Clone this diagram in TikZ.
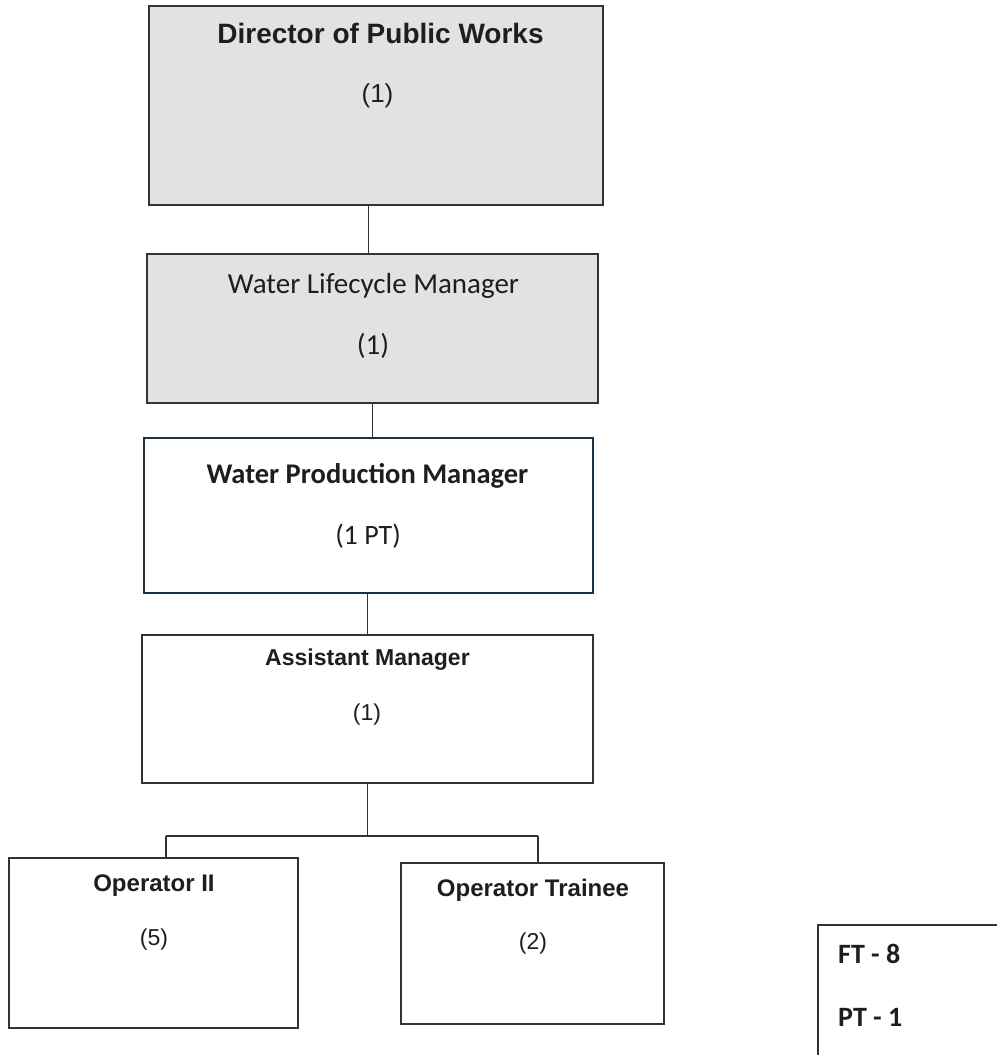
\documentclass[tikz,border=0pt]{standalone}
\usepackage{fontspec}
\setmainfont{Liberation Sans}
\newfontfamily\calib{Carlito}
\definecolor{boxgray}{RGB}{226,226,226}
\definecolor{wpmblue}{RGB}{28,48,72}
\definecolor{ink}{RGB}{30,30,30}
\begin{document}
\begin{tikzpicture}[x=1pt,y=-1pt,
  box/.style={draw=black!80,line width=1.3pt,rectangle,inner sep=0pt},
  graybox/.style={box,fill=boxgray},
  wpmbox/.style={draw=wpmblue,line width=2pt,rectangle,inner sep=0pt,fill=white},
  txt/.style={anchor=base,inner sep=0pt,text=ink},
  conn/.style={draw=black!80,line width=1.2pt}]
\useasboundingbox (0,0) rectangle (997,1055);
% boxes
\node[graybox,minimum width=454pt,minimum height=199pt] (dir) at (376,105.5) {};
\node[graybox,minimum width=451pt,minimum height=149pt] (life) at (372.5,328.5) {};
\node[wpmbox,minimum width=449pt,minimum height=155pt] (wpm) at (368.5,515.5) {};
\node[box,minimum width=451pt,minimum height=148pt] (am) at (367.5,709) {};
\node[box,minimum width=289pt,minimum height=170pt] (op2) at (153.5,943) {};
\node[box,minimum width=263pt,minimum height=161pt] (opt) at (532.5,943.5) {};
% texts
\node[txt,font=\bfseries\fontsize{28}{30}\selectfont] (dirT) at (380.5,43) {Director of Public Works};
\node[txt,font=\fontsize{26}{28}\selectfont] (dirN) at (377.5,102.5) {(1)};
\node[txt,font=\calib\fontsize{29}{31}\selectfont] (lifeT) at (373.5,293) {Water Lifecycle Manager};
\node[txt,font=\calib\fontsize{29}{31}\selectfont] (lifeN) at (373,354) {(1)};
\node[txt,font=\calib\bfseries\fontsize{28.5}{30}\selectfont] (wpmT) at (367.5,483) {Water Production Manager};
\node[txt,font=\calib\fontsize{28}{30}\selectfont] (wpmN) at (368,544) {(1 PT)};
\node[txt,font=\bfseries\fontsize{23}{25}\selectfont] (amT) at (367.5,665.5) {Assistant Manager};
\node[txt,font=\fontsize{23}{25}\selectfont] (amN) at (367,720) {(1)};
\node[txt,font=\bfseries\fontsize{24}{26}\selectfont] (op2T) at (154,891.5) {Operator II};
\node[txt,font=\fontsize{23}{25}\selectfont] (op2N) at (154,945) {(5)};
\node[txt,font=\bfseries\fontsize{24}{26}\selectfont] (optT) at (533,896) {Operator Trainee};
\node[txt,font=\fontsize{23}{25}\selectfont] (optN) at (533,949) {(2)};
% legend
\coordinate (ftR) at (997,925);
\coordinate (ftC) at (818,925);
\coordinate (ftB) at (818,1055);
\draw[conn,line width=1.4pt] (ftR) -- (ftC) -- (ftB);
\node[txt,anchor=base west,font=\calib\bfseries\fontsize{28}{30}\selectfont] (ft) at (838,963) {FT - 8};
\node[txt,anchor=base west,font=\calib\bfseries\fontsize{28}{30}\selectfont] (pt) at (838,1026) {PT - 1};
% connectors
\draw[conn] (dir.south -| wpm.north) -- (life.north -| wpm.north);
\draw[conn] (life.south) -- (life.south |- wpm.north);
\draw[conn] (wpm.south -| am.north) -- (am.north);
\coordinate (bus) at (367.5,836);
\coordinate (bl) at (166,836);
\coordinate (br) at (538,836);
\draw[conn] (am.south) -- (bus);
\draw[conn] (bl) -- (br);
\draw[conn] (bl) -- (bl |- op2.north);
\draw[conn] (br) -- (br |- opt.north);
\end{tikzpicture}
\end{document}
